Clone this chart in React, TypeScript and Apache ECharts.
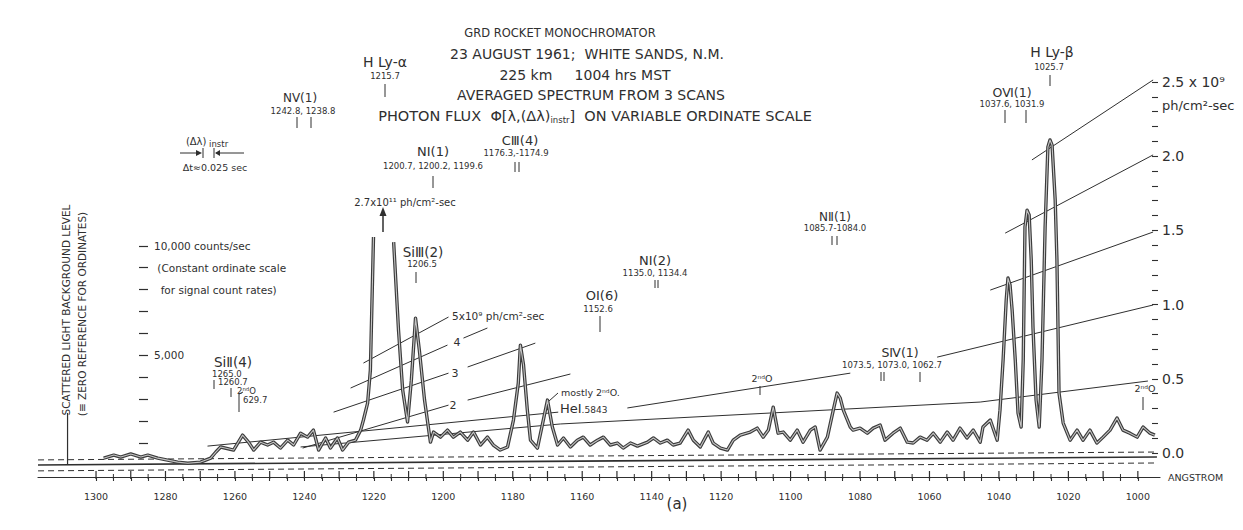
import React, { useEffect, useRef } from "react";
import * as echarts from "echarts";

const INK = "#2f2f2f";
const FONT = '"DejaVu Sans", "Liberation Sans", sans-serif';

// ---- axis values ----
const xLabelValues = [1000, 1020, 1040, 1060, 1080, 1100, 1120, 1140, 1160, 1180, 1200, 1220, 1240, 1260, 1280, 1300];
const xMajorTicks = [1000, 1010, 1020, 1030, 1040, 1050, 1060, 1070, 1080, 1090, 1100, 1110, 1120, 1130, 1140, 1150, 1160, 1170, 1180, 1190, 1200, 1210, 1220, 1230, 1240, 1250, 1260, 1270, 1280, 1290, 1300];
const xMinorTicks = [1005, 1015, 1025, 1035, 1045, 1055, 1065, 1075, 1085, 1095, 1105, 1115, 1125, 1135, 1145, 1155, 1165, 1175, 1185, 1195, 1205, 1215, 1225, 1235, 1245, 1255, 1265, 1275, 1285, 1295];
const countTicks = [1000, 2000, 3000, 4000, 5000, 6000, 7000, 8000, 9000, 10000];
const countLabelValues = [5000, 8000, 9000, 10000];
const fluxTicks = [0, 0.1, 0.2, 0.3, 0.4, 0.5, 0.6, 0.7, 0.8, 0.9, 1.0, 1.1, 1.2, 1.3, 1.4, 1.5, 1.6, 1.7, 1.8, 1.9, 2.0, 2.1, 2.2, 2.3, 2.4, 2.5];
const fluxLabelValues = [0, 0.5, 1, 1.5, 2, 2.345, 2.5];

const COUNT_MIN = -550;
const COUNT_MAX = 19850;

// ---- spectrum (wavelength Å, counts/sec) ----
const spectrumLong = [
  [1297.8, 310], [1294.9, 450], [1292.9, 360], [1290.0, 500], [1287.1, 360], [1285.1, 450],
  [1282.2, 310], [1279.4, 220], [1276.5, 130], [1273.6, 80], [1269.9, 130], [1267.0, 310],
  [1265.5, 590], [1264.1, 820], [1260.4, 680], [1257.8, 1360], [1256.1, 1040], [1254.6, 680],
  [1252.6, 1040], [1250.6, 910], [1248.9, 1040], [1246.9, 770], [1244.8, 1130], [1243.1, 910],
  [1241.1, 1450], [1239.1, 1270], [1237.4, 1590], [1235.9, 680], [1233.9, 1230], [1232.5, 770],
  [1230.5, 1230], [1229.0, 680], [1227.3, 1040], [1225.3, 1130], [1223.8, 1590], [1223.0, 2050],
  [1221.8, 2820], [1221.0, 4330], [1220.1, 10400],
];
const spectrumShort = [
  [1214.3, 10170], [1212.9, 6160], [1211.7, 3420], [1210.3, 1960], [1209.2, 3870], [1208.0, 6700],
  [1206.9, 5240], [1205.4, 2960], [1203.7, 1040], [1202.8, 1500], [1200.8, 1270], [1198.8, 1590],
  [1197.1, 1270], [1195.1, 1500], [1193.0, 1130], [1191.3, 1500], [1189.3, 910], [1187.3, 1270],
  [1185.6, 910], [1183.6, 680], [1181.5, 820], [1179.8, 2050], [1178.4, 3740], [1177.8, 5470],
  [1176.9, 4560], [1175.8, 2500], [1174.9, 1130], [1172.9, 770], [1171.2, 2050], [1170.0, 2960],
  [1168.6, 1730], [1167.1, 910], [1165.4, 1230], [1163.4, 820], [1161.4, 1130], [1159.7, 1270],
  [1157.7, 910], [1155.6, 1130], [1153.9, 1270], [1151.9, 910], [1149.9, 1000], [1148.2, 770],
  [1146.1, 1000], [1144.1, 860], [1141.2, 1040], [1139.5, 1230], [1137.5, 1000], [1135.5, 1130],
  [1133.8, 910], [1131.8, 1000], [1129.5, 1590], [1128.0, 1130], [1126.0, 820], [1123.7, 1500],
  [1122.3, 1000], [1120.2, 770], [1118.2, 680], [1116.5, 1130], [1114.5, 1360], [1111.6, 1500],
  [1109.6, 1680], [1107.9, 1270], [1106.4, 1590], [1105.0, 2640], [1103.6, 1450], [1102.1, 1500],
  [1100.1, 1130], [1098.1, 1590], [1096.4, 1040], [1094.3, 1590], [1092.9, 1730], [1091.5, 680],
  [1089.4, 1270], [1087.7, 2500], [1086.6, 3280], [1085.7, 3050], [1084.8, 2500], [1082.8, 1730],
  [1082.0, 1590], [1080.0, 1680], [1077.9, 1450], [1076.2, 1680], [1074.2, 1820], [1072.8, 1130],
  [1070.5, 1450], [1068.4, 1680], [1066.4, 1040], [1064.7, 1000], [1062.7, 1270], [1060.7, 1130],
  [1058.9, 1450], [1056.9, 1040], [1054.9, 1500], [1053.2, 1130], [1051.2, 1680], [1049.2, 1230],
  [1047.4, 1590], [1045.4, 1040], [1044.6, 1730], [1042.5, 2050], [1040.5, 1130], [1039.7, 2500],
  [1038.8, 4790], [1037.9, 7530], [1037.4, 8530], [1036.8, 8210], [1036.2, 7070], [1035.3, 4790],
  [1034.5, 2370], [1033.6, 1730], [1033.0, 4790], [1032.5, 10860], [1031.9, 11630], [1031.3, 11410],
  [1030.7, 9350], [1030.2, 6290], [1029.3, 2960], [1028.4, 1730], [1027.6, 4790], [1026.7, 10860],
  [1025.9, 14510], [1025.3, 14830], [1024.7, 14600], [1023.8, 12090], [1023.3, 9350], [1022.7, 3280],
  [1021.5, 1910], [1019.5, 1130], [1017.5, 1590], [1015.8, 1130], [1013.8, 1590], [1011.8, 1000],
  [1010.0, 1270], [1008.0, 1590], [1006.0, 2140], [1004.3, 1590], [1002.3, 1450], [1000.2, 1270],
  [998.5, 1730], [996.5, 1450], [995.1, 1360],
];

// ---- photon-flux reference lines (drawn in counts space) ----
const flux05 = [[1241.1, 820], [1166.3, 1870], [1045.4, 2870], [997.1, 3830]];
const flux10a = [[1267.9, 860], [1166.9, 2410]];
const flux10b = [[1147.0, 2600], [1082.8, 4190]];
const flux10c = [[1057.8, 4920], [995.6, 7300]];
const flux15 = [[1042.5, 7980], [995.6, 10630]];
const flux20 = [[1038.2, 10580], [995.6, 14150]];
const flux25 = [[1030.5, 13920], [995.6, 17570]];
const flux2a = [[1240.5, 770], [1198.5, 2730]];
const flux2b = [[1193.0, 2960], [1163.4, 4150]];
const flux3a = [[1231.6, 2410], [1198.5, 4190]];
const flux3b = [[1193.0, 4470], [1173.5, 5560]];
const flux4a = [[1226.7, 3510], [1198.8, 5470]];
const flux4b = [[1194.2, 5790], [1187.3, 6250]];
const flux5 = [[1223.0, 4650], [1198.5, 6750]];

// ---- zero-reference lines ----
const baseSolid = [[1316.7, 0], [994.5, 360]];
const baseDashUpper = [[1316.7, 230], [994.5, 590]];
const baseDashLower = [[1316.7, -270], [994.5, 90]];
const scatterMarker = [[1308.2, 0], [1308.2, 2370]];

function txt(x: number, y: number, text: string, size = 9, align = "center", extra: any = {}) {
  return {
    type: "text", x, y, silent: true, z: 50,
    style: { text, fill: INK, font: `${size}px ${FONT}`, align, verticalAlign: "middle", ...extra },
  };
}
function seg(x1: number, y1: number, x2: number, y2: number, w = 1) {
  return { type: "line", silent: true, z: 50, shape: { x1, y1, x2, y2 }, style: { stroke: INK, lineWidth: w } };
}
function tri(points: number[][]) {
  return { type: "polygon", silent: true, z: 50, shape: { points }, style: { fill: INK } };
}

export default function App() {
  const ref = useRef<HTMLDivElement>(null);
  useEffect(() => {
    document.body.style.margin = "0";
    const chart = echarts.init(ref.current!, null, { renderer: "svg" });

    const thin = (data: number[][], extra: any = {}) => ({
      type: "line", data, xAxisIndex: 0, yAxisIndex: 0, symbol: "none", silent: true, z: 3,
      lineStyle: { color: INK, width: 1, ...extra },
    });
    const spec = (data: number[][], color: string, width: number, z: number) => ({
      type: "line", data, xAxisIndex: 0, yAxisIndex: 0, symbol: "none", silent: true, z,
      lineStyle: { color, width, join: "round" },
    });

    const small = 8.5;
    const big = 13;
    const graphics: any[] = [
      // title block
      txt(560, 33, "GRD ROCKET MONOCHROMATOR", 11.5),
      txt(587, 54, "23 AUGUST 1961;  WHITE SANDS, N.M.", 14),
      txt(585, 75, "225 km     1004 hrs MST", 14),
      txt(591, 95, "AVERAGED SPECTRUM FROM 3 SCANS", 14),
      {
        type: "text", x: 595, y: 116, silent: true, z: 50,
        style: {
          text: "{a|PHOTON FLUX  Φ[λ,(Δλ)}{s|instr}{a|]  ON VARIABLE ORDINATE SCALE}",
          align: "center", verticalAlign: "middle",
          rich: {
            a: { font: `14.5px ${FONT}`, fill: INK },
            s: { font: `8.5px ${FONT}`, fill: INK, padding: [8, 0, 0, 0] },
          },
        },
      },
      // H Ly-alpha
      txt(385, 62, "H Ly-α", 14),
      txt(385, 76, "1215.7", small),
      seg(385, 84, 385, 97),
      // N V
      txt(300, 98, "NⅤ(1)", 12),
      txt(303, 111, "1242.8, 1238.8", small),
      seg(297, 117, 297, 128), seg(311, 117, 311, 128),
      // instrument width
      {
        type: "text", x: 207, y: 141, silent: true, z: 50,
        style: {
          text: "{a|(Δλ)}{s| instr}", align: "center", verticalAlign: "middle",
          rich: { a: { font: `10px ${FONT}`, fill: INK }, s: { font: `8.5px ${FONT}`, fill: INK, padding: [6, 0, 0, 0] } },
        },
      },
      seg(180, 153, 200, 153), tri([[196, 150], [196, 156], [202, 153]]), seg(203, 148, 203, 158),
      seg(214, 148, 214, 158), seg(216, 153, 244, 153), tri([[220, 150], [220, 156], [215, 153]]),
      txt(215, 167, "Δt≈0.025 sec", 9.5),
      // N I (1)
      txt(433, 151, "NⅠ(1)", big),
      txt(433, 166, "1200.7, 1200.2, 1199.6", small),
      seg(433, 176, 433, 188),
      // off-scale arrow
      txt(405, 202, "2.7x10¹¹ ph/cm²-sec", 10),
      seg(383, 232, 383, 214, 1.5), tri([[379.5, 216], [386.5, 216], [383, 207]]),
      // C III
      txt(520, 140, "CⅢ(4)", big),
      txt(516, 153, "1176.3,-1174.9", small),
      seg(515, 162, 515, 172), seg(519, 162, 519, 172),
      // Si III
      txt(423, 252, "SiⅢ(2)", 13.5),
      txt(422, 264, "1206.5", small),
      seg(416, 272, 416, 283),
      // Si II
      txt(233, 362, "SiⅡ(4)", 13.5),
      txt(212, 374, "1265.0", small, "left"),
      seg(214, 380, 214, 389),
      txt(218, 382, "1260.7", small, "left"),
      seg(231, 388, 231, 397),
      txt(237, 391, "2ⁿᵈO", small, "left"),
      txt(243, 400, "629.7", small, "left"),
      seg(239, 394, 239, 412), seg(239, 394, 243, 392),
      // flux line labels (left)
      txt(452, 316, "5x10⁹ ph/cm²-sec", 10.5, "left"),
      txt(457, 342, "4", 11),
      txt(455, 373, "3", 11),
      txt(453, 405, "2", 11),
      // He I
      txt(561, 392, "mostly 2ⁿᵈO.", 9.5, "left"),
      seg(549, 401, 558, 393),
      {
        type: "text", x: 560, y: 408, silent: true, z: 50,
        style: {
          text: "{a|HeⅠ}{s|.5843}", align: "left", verticalAlign: "middle",
          rich: { a: { font: `13px ${FONT}`, fill: INK }, s: { font: `9px ${FONT}`, fill: INK, padding: [3, 0, 0, 0] } },
        },
      },
      // O I
      txt(602, 295, "OⅠ(6)", big),
      txt(598, 309, "1152.6", small),
      seg(600, 316, 600, 332),
      // N I (2)
      txt(655, 260, "NⅠ(2)", big),
      txt(655, 273, "1135.0, 1134.4", small),
      seg(655, 280, 655, 288), seg(658, 280, 658, 288),
      // N II
      txt(835, 217, "NⅡ(1)", 12),
      txt(835, 228, "1085.7-1084.0", small),
      seg(832, 236, 832, 245), seg(837, 236, 837, 245),
      // 2nd order mid
      txt(762, 378, "2ⁿᵈO", 9.5),
      seg(760, 386, 760, 395),
      // S IV
      txt(900, 352, "SⅣ(1)", 12.5),
      txt(892, 365, "1073.5, 1073.0, 1062.7", small),
      seg(881, 372, 881, 381), seg(884, 372, 884, 381), seg(920, 372, 920, 382),
      // O VI
      txt(1012, 92, "OⅥ(1)", 12.5),
      txt(1012, 104, "1037.6, 1031.9", small),
      seg(1005, 110, 1005, 123), seg(1026, 110, 1026, 123),
      // H Ly-beta
      txt(1052, 52, "H Ly-β", 14),
      txt(1049, 67, "1025.7", small),
      seg(1050, 75, 1050, 86),
      // 2nd order right
      txt(1145, 388, "2ⁿᵈO", 9.5),
      seg(1143, 397, 1143, 410),
      // axis texts
      txt(1168, 477, "ANGSTROM", 9.5, "left"),
      txt(677, 504, "(a)", 15),
      // vertical texts
      { ...txt(66, 310, "SCATTERED LIGHT BACKGROUND LEVEL", 10.5), rotation: Math.PI / 2 },
      { ...txt(82, 314, "(≡ ZERO REFERENCE FOR ORDINATES)", 10.5), rotation: Math.PI / 2 },
    ];

    const allTicks = [...xMajorTicks, ...xMinorTicks];

    chart.setOption({
      animation: false,
      backgroundColor: "#ffffff",
      grid: { left: 38, right: 83, top: 30, bottom: 53, containLabel: false },
      xAxis: {
        type: "value", position: "bottom", inverse: true, min: 993.62, max: 1316.71,
        splitLine: { show: false },
        axisLine: { show: true, onZero: false, lineStyle: { color: INK, width: 1.2 } },
        axisTick: { show: true, inside: false, customValues: allTicks, length: 4, lineStyle: { color: INK, width: 1.1 } },
        axisLabel: {
          customValues: xLabelValues, margin: 14, color: INK, fontSize: 9.5, fontFamily: FONT,
          formatter: (v: number) => String(v),
        },
      },
      yAxis: [
        {
          type: "value", min: COUNT_MIN, max: COUNT_MAX, position: "left", offset: -110,
          splitLine: { show: false },
          axisLine: { show: false, onZero: false },
          axisTick: { show: true, customValues: countTicks, length: 9, lineStyle: { color: INK, width: 1.2 } },
          axisLabel: {
            inside: true, margin: 6, customValues: countLabelValues, color: INK, fontSize: 10.5, fontFamily: FONT,
            formatter: (v: number) =>
              v === 10000 ? "10,000 counts/sec" : v === 9000 ? " (Constant ordinate scale" : v === 8000 ? "  for signal count rates)" : "5,000",
          },
        },
        {
          type: "value", min: -0.1617, max: 2.8504, position: "right", offset: -8,
          splitLine: { show: false },
          axisLine: { show: false, onZero: false },
          axisTick: { show: true, customValues: fluxTicks, length: 6, lineStyle: { color: INK, width: 1.1 } },
          axisLabel: {
            customValues: fluxLabelValues, margin: 10, color: INK, fontFamily: FONT,
            formatter: (v: number) =>
              v === 2.5 ? "{b|2.5 x 10⁹}" : v === 2.345 ? "{c|ph/cm²-sec}" : `{b|${v.toFixed(1)}}`,
            rich: {
              b: { fontSize: 14, fontFamily: FONT, color: INK },
              c: { fontSize: 13, fontFamily: FONT, color: INK },
            },
          },
        },
      ],
      series: [
        thin(baseSolid, { width: 1.6 }),
        thin(baseDashUpper, { type: [6, 4] }),
        thin(baseDashLower, { type: [6, 4] }),
        thin(scatterMarker, { width: 1.2 }),
        thin(flux05), thin(flux10a), thin(flux10b), thin(flux10c),
        thin(flux15), thin(flux20), thin(flux25),
        thin(flux2a), thin(flux2b), thin(flux3a), thin(flux3b),
        thin(flux4a), thin(flux4b), thin(flux5),
        spec(spectrumLong, "#3c3c3c", 3.4, 10),
        spec(spectrumShort, "#3c3c3c", 3.4, 10),
        spec(spectrumLong, "#c4c4c4", 1.1, 11),
        spec(spectrumShort, "#c4c4c4", 1.1, 11),
      ],
      graphic: { elements: graphics },
    });

    // upper halves of the wavelength ticks (crossing the axis line), placed through the axis scale
    try {
      const upper: any[] = [];
      const add = (values: number[], up: number, w: number) => {
        values.forEach((v) => {
          const p: any = chart.convertToPixel({ gridIndex: 0 } as any, [v, COUNT_MIN]);
          if (Array.isArray(p) && isFinite(p[0]) && isFinite(p[1])) upper.push(seg(p[0], p[1] - up, p[0], p[1] + 2, w));
        });
      };
      add(xMajorTicks, 6, 1.2);
      add(xMinorTicks, 3, 1);
      if (upper.length) chart.setOption({ graphic: { elements: [...graphics, ...upper] } });
    } catch (e) {
      // keep the axis ticks only
    }

    return () => chart.dispose();
  }, []);
  return <div ref={ref} style={{ width: 1243, height: 530 }} />;
}
